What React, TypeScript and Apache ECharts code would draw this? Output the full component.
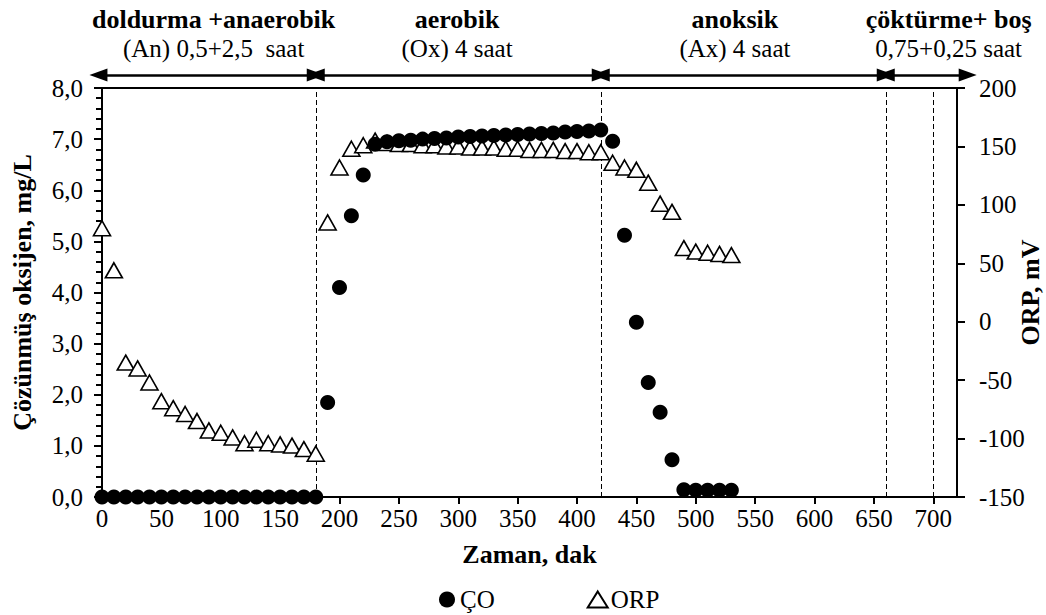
import React, { useEffect, useRef } from "react";
import * as echarts from "echarts";

const FONT = "'Liberation Serif', 'Times New Roman', serif";

// Time (min) for each measurement
const timeCO: number[] = [
  0, 10, 20, 30, 40, 50, 60, 70, 80, 90, 100, 110, 120, 130, 140, 150, 160, 170, 180,
  190, 200, 210, 220, 230, 240, 250, 260, 270, 280, 290, 300, 310, 320, 330, 340, 350,
  360, 370, 380, 390, 400, 410, 420, 430, 440, 450, 460, 470, 480, 490, 500, 510, 520, 530,
];
// Dissolved oxygen, mg/L
const valuesCO: number[] = [
  0, 0, 0, 0, 0, 0, 0, 0, 0, 0, 0, 0, 0, 0, 0, 0, 0, 0, 0,
  1.85, 4.1, 5.5, 6.3, 6.9, 6.95, 6.97, 6.98, 7.0, 7.01, 7.02, 7.04, 7.05, 7.06, 7.07, 7.08, 7.09,
  7.1, 7.11, 7.12, 7.14, 7.15, 7.16, 7.18, 6.96, 5.12, 3.42, 2.24, 1.66, 0.73, 0.14, 0.13, 0.13, 0.13, 0.13,
];
// ORP, mV
const timeORP: number[] = timeCO;
const valuesORP: number[] = [
  80, 44, -35, -40, -52, -68, -74, -79, -85, -93, -95, -99, -104, -101, -104, -105, -106, -109, -113,
  85, 132, 148, 151, 155, 153, 152, 152, 151, 151, 150, 150, 149, 149, 149, 148, 148,
  147, 147, 147, 146, 146, 145, 145, 136, 132, 130, 119, 101, 94, 63, 60, 59, 58, 57,
];

// Phase boundaries (min)
const phaseBoundaries: number[] = [180, 420, 660, 700];
// Phase arrows [start, end] (min)
const phaseArrows: [number, number][] = [
  [-3, 180],
  [180, 420],
  [420, 660],
  [660, 729],
];
const phaseTitles: string[] = ["doldurma +anaerobik", "aerobik", "anoksik", "çöktürme+ boş"];
const phaseSubtitles: string[] = ["(An) 0,5+2,5  saat", "(Ox) 4 saat", "(Ax) 4 saat", "0,75+0,25 saat"];
const phaseLabelCenters: number[] = [94, 299, 533, 713];

export default function App() {
  const ref = useRef<HTMLDivElement>(null);

  useEffect(() => {
    if (!ref.current) return;
    const chart = echarts.init(ref.current, undefined, { renderer: "svg" });

    const co = timeCO.map((t, i) => [t, valuesCO[i]]);
    const orp = timeORP.map((t, i) => [t, valuesORP[i]]);

    const axisLine = { show: true, lineStyle: { color: "#000", width: 2 } };
    const labelStyle = { color: "#000", fontSize: 25, fontFamily: FONT };
    const nameStyle = { color: "#000", fontSize: 26, fontFamily: FONT, fontWeight: "bold" as const };

    const option: any = {
      animation: false,
      backgroundColor: "#fff",
      grid: [
        {
          left: 102, right: 89, top: 88, bottom: 118,
          containLabel: false, outerBoundsMode: "none",
          show: true, borderColor: "#000", borderWidth: 2, backgroundColor: "transparent",
        },
        { left: 90.125, right: 65.25, top: 70, height: 10, containLabel: false, outerBoundsMode: "none" },
      ],
      xAxis: [
        {
          type: "value",
          gridIndex: 0,
          min: 0,
          max: 720,
          interval: 50,
          name: "Zaman, dak",
          nameLocation: "middle",
          nameGap: 44,
          nameMoveOverlap: false,
          nameTextStyle: nameStyle,
          axisLine,
          axisTick: { show: true, inside: false, length: 7, lineStyle: { color: "#000", width: 2 } },
          axisLabel: { ...labelStyle, margin: 9, showMaxLabel: false },
          splitLine: { show: false },
        },
        { type: "value", gridIndex: 1, min: -10, max: 740, show: false },
      ],
      yAxis: [
        {
          type: "value",
          gridIndex: 0,
          min: 0,
          max: 8,
          interval: 1,
          position: "left",
          name: "Çözünmüş oksijen, mg/L",
          nameLocation: "middle",
          nameRotate: 90,
          nameGap: 67,
          nameMoveOverlap: false,
          nameTextStyle: nameStyle,
          axisLine,
          axisTick: { show: true, inside: false, length: 8, lineStyle: { color: "#000", width: 2 } },
          minorTick: { show: true, splitNumber: 5, length: 6, lineStyle: { color: "#000", width: 2 } },
          axisLabel: { ...labelStyle, margin: 19, formatter: (v: number) => v.toFixed(1).replace(".", ",") },
          splitLine: { show: false },
          minorSplitLine: { show: false },
        },
        {
          type: "value",
          gridIndex: 0,
          min: -150,
          max: 200,
          interval: 50,
          position: "right",
          name: "ORP, mV",
          nameLocation: "middle",
          nameRotate: 90,
          nameGap: 60,
          nameMoveOverlap: false,
          nameTextStyle: nameStyle,
          axisLine,
          axisTick: { show: true, inside: false, length: 8, lineStyle: { color: "#000", width: 2 } },
          axisLabel: { ...labelStyle, margin: 22 },
          splitLine: { show: false },
        },
        { type: "value", gridIndex: 1, min: 0, max: 1, show: false },
      ],
      legend: {
        left: 434,
        top: 582,
        itemGap: 92,
        itemWidth: 20,
        itemHeight: 16,
        textStyle: { color: "#000", fontSize: 25, fontFamily: FONT, padding: [2, 0, 0, -2] },
        data: [
          { name: "ÇO", icon: "circle" },
          { name: "ORP", icon: "triangle" },
        ],
      },
      series: [
        {
          name: "ORP",
          type: "scatter",
          xAxisIndex: 0,
          yAxisIndex: 1,
          symbol: "triangle",
          symbolSize: [17, 15],
          itemStyle: { color: "#fff", borderColor: "#000", borderWidth: 1.6, opacity: 1 },
          data: orp,
          z: 2,
        },
        {
          name: "ÇO",
          type: "scatter",
          xAxisIndex: 0,
          yAxisIndex: 0,
          symbol: "circle",
          symbolSize: 15,
          itemStyle: { color: "#000", opacity: 1 },
          data: co,
          z: 3,
          markLine: {
            silent: true,
            symbol: "none",
            label: { show: false },
            lineStyle: { color: "#000", width: 1, type: [5, 3] },
            data: phaseBoundaries.map((b) => ({ xAxis: b })),
            z: 1,
          },
        },
        {
          name: "phases",
          type: "line",
          xAxisIndex: 1,
          yAxisIndex: 2,
          showSymbol: false,
          data: [[0, 0.5]],
          lineStyle: { width: 0 },
          clip: false,
          markLine: {
            silent: true,
            symbol: ["triangle", "triangle"],
            symbolSize: [13, 18],
            label: { show: false },
            lineStyle: { color: "#000", width: 2.5, type: "solid" },
            data: phaseArrows.map(([a, b]) => [{ coord: [a, 0.5] }, { coord: [b, 0.5] }]),
          },
        },
      ],
    };

    chart.setOption(option);

    const graphic: any[] = [];
    phaseLabelCenters.forEach((c, i) => {
      const x = chart.convertToPixel({ xAxisIndex: 0 }, c) as number;
      graphic.push({
        type: "text",
        x,
        y: 19,
        style: {
          text: phaseTitles[i],
          fill: "#000",
          font: `bold 26px ${FONT}`,
          align: "center",
          verticalAlign: "middle",
        },
      });
      graphic.push({
        type: "text",
        x,
        y: 48,
        style: {
          text: phaseSubtitles[i],
          fill: "#000",
          font: `25px ${FONT}`,
          align: "center",
          verticalAlign: "middle",
        },
      });
    });
    chart.setOption({ graphic });

    return () => chart.dispose();
  }, []);

  return (
    <div
      ref={ref}
      style={{ position: "fixed", left: 0, top: 0, width: 1046, height: 615, background: "#fff" }}
    />
  );
}
